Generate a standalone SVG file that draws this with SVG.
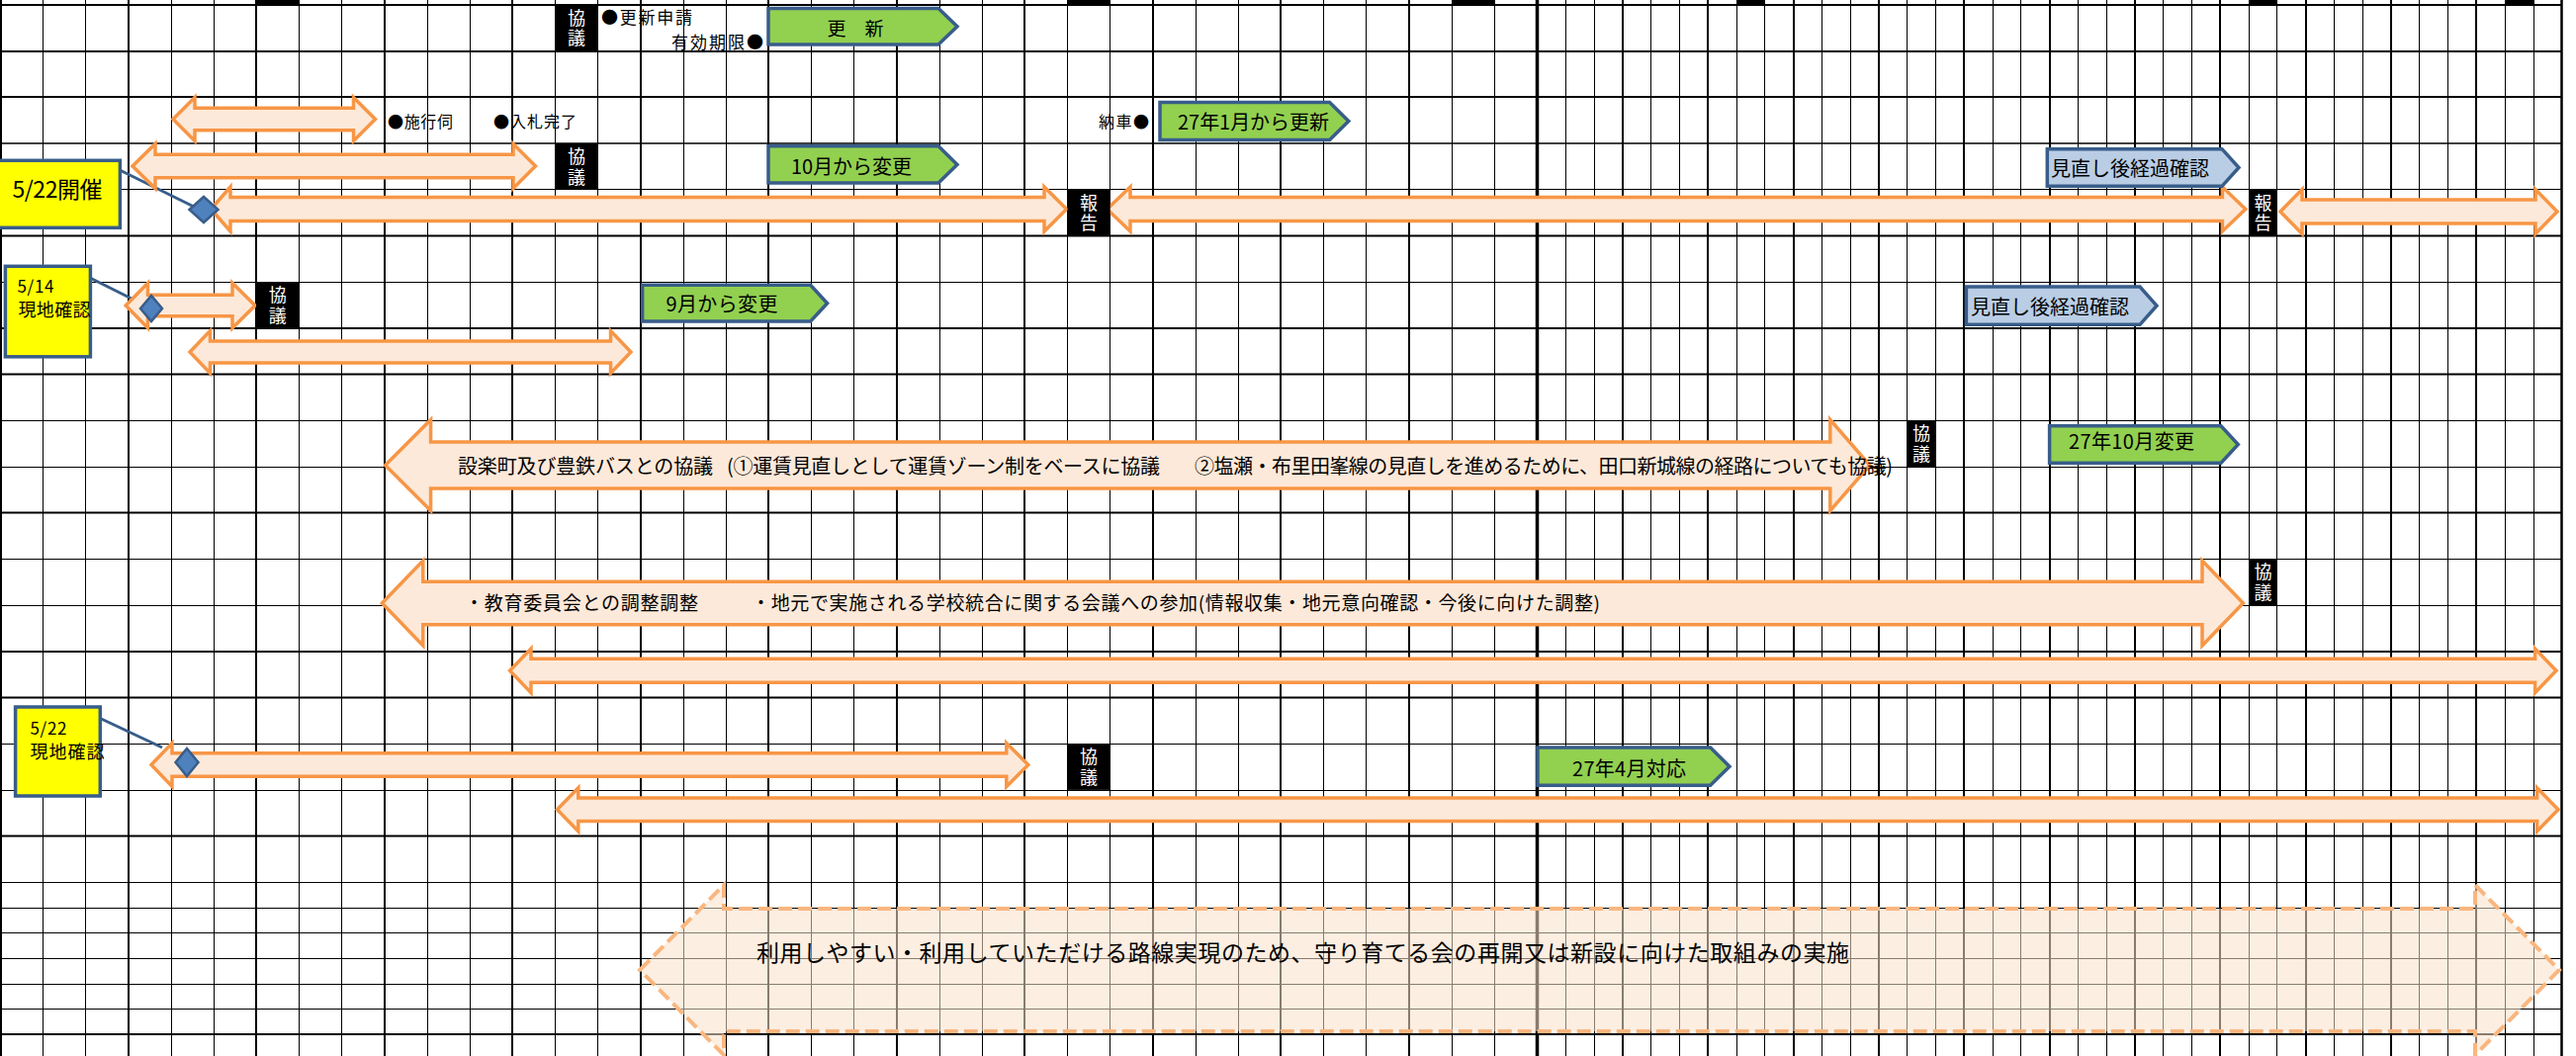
<svg xmlns="http://www.w3.org/2000/svg" width="2605" height="1068" viewBox="0 0 2605 1068">
<style>
text{font-family:"Noto Sans CJK JP","Noto Sans",sans-serif;fill:#000;dominant-baseline:central}
.g1{fill:none;stroke:#000;stroke-width:1}
.g2{fill:none;stroke:#000;stroke-width:2}
.g15{fill:none;stroke:#000;stroke-width:1.5}
.arr{fill:#FDE9D9;stroke:#F79646;stroke-width:3.5;stroke-linejoin:miter}
.dash{fill:#FAE0C8;fill-opacity:0.55;stroke:#F9B67F;stroke-width:4;stroke-dasharray:14 6}
.grn{fill:#92D050;stroke:#385D8A;stroke-width:3.5}
.blu{fill:#B9CDE5;stroke:#385D8A;stroke-width:3.5}
.yel{fill:#FFFF00;stroke:#385D8A;stroke-width:3.5}
.dia{fill:#4F81BD;stroke:#385D8A;stroke-width:2.5}
.cl{stroke:#385D8A;stroke-width:3;fill:none}
.blk{fill:#000}
.wt{fill:#fff;font-size:18px;text-anchor:middle;writing-mode:vertical-rl;letter-spacing:2.5px}
.s16{font-size:16px}
.s17{font-size:17px}
.s19{font-size:19px}
.s20{font-size:20px}
</style>
<rect width="2605" height="1068" fill="#fff"/>
<g id="grid">
<path class="g1" d="M43.5 0V1068M86.5 0V1068M173.5 0V1068M216.5 0V1068M302.5 0V1068M345.5 0V1068M432.5 0V1068M475.5 0V1068M561.5 0V1068M604.5 0V1068M691.5 0V1068M734.5 0V1068M820.5 0V1068M863.5 0V1068M950.5 0V1068M993.5 0V1068M1079.5 0V1068M1122.5 0V1068M1209.5 0V1068M1252.5 0V1068M1338.5 0V1068M1381.5 0V1068M1468.5 0V1068M1511.5 0V1068M1583.5 0V1068M1612.5 0V1068M1669.5 0V1068M1698.5 0V1068M1756.5 0V1068M1784.5 0V1068M1842.5 0V1068M1871.5 0V1068M1928.5 0V1068M1957.5 0V1068M2015.5 0V1068M2043.5 0V1068M2101.5 0V1068M2130.5 0V1068M2187.5 0V1068M2216.5 0V1068M2274.5 0V1068M2302.5 0V1068M2360.5 0V1068M2389.5 0V1068M2446.5 0V1068M2475.5 0V1068M2533.5 0V1068M2562.5 0V1068"/>
<path class="g2" d="M1 0V1068M130 0V1068M259 0V1068M389 0V1068M518 0V1068M648 0V1068M777 0V1068M907 0V1068M1036 0V1068M1166 0V1068M1295 0V1068M1425 0V1068M1641 0V1068M1727 0V1068M1814 0V1068M1900 0V1068M1986 0V1068M2073 0V1068M2159 0V1068M2245 0V1068M2332 0V1068M2418 0V1068M2504 0V1068"/>
<path fill="none" stroke="#000" stroke-width="3.5" d="M1554.5 0V1068"/>
<path fill="none" stroke="#000" stroke-width="2.5" d="M2590.5 0V1068"/>
<path class="g2" d="M0 5H2591M0 52H2591M0 98H2591M0 238.5H2591M0 332H2591M0 378.5H2591M0 518.5H2591M0 659H2591M0 705.5H2591M0 845.5H2591M0 1046H2591"/>
<path class="g15" d="M0 145H2591"/>
<path class="g1" d="M0 191.5H2591M0 285.5H2591M0 425.5H2591M0 472.5H2591M0 565.5H2591M0 612.5H2591M0 752.5H2591M0 799.5H2591M0 892.5H2591M0 918.5H2591M0 943.5H2591M0 969.5H2591M0 995.5H2591M0 1020.5H2591"/>
<rect class="blk" x="259" y="0" width="43" height="5"/>
<rect class="blk" x="1080" y="0" width="43" height="5"/>
<rect class="blk" x="1468" y="0" width="43" height="5"/>
<rect class="blk" x="1756" y="0" width="29" height="5"/>
<rect class="blk" x="2274" y="0" width="29" height="5"/>
<rect class="blk" x="2533" y="0" width="29" height="5"/>
</g>
<g id="connectors">
<line class="cl" x1="115" y1="169" x2="196" y2="209"/>
<line class="cl" x1="89" y1="280" x2="147" y2="309"/>
<line class="cl" x1="96" y1="724" x2="164" y2="756"/>
</g>
<g id="arrow-row3"><polygon class="arr" points="175,120.5 197,98.5 197,109.3 357.5,109.3 357.5,98.5 379.5,120.5 357.5,142.5 357.5,131.7 197,131.7 197,142.5"/></g>
<g id="arrow-row4"><polygon class="arr" points="134,168 157,145.5 157,156.3 519,156.3 519,145.5 541.5,168 519,190.5 519,179.7 157,179.7 157,190.5"/></g>
<g id="arrow-row5a"><polygon class="arr" points="213.4,211.5 233,189 233,199.5 1056,199.5 1056,189 1078.6,211.5 1056,234 1056,223.5 233,223.5 233,234"/></g>
<g id="arrow-row5b"><polygon class="arr" points="1119.6,211.5 1143,189 1143,199.5 2247.4,199.5 2247.4,189 2270.8,211.5 2247.4,234 2247.4,223.5 1143,223.5 1143,234"/></g>
<g id="arrow-row5c"><polygon class="arr" points="2306,214 2328,191.5 2328,202 2564,202 2564,191.5 2586,214 2564,236.5 2564,226 2328,226 2328,236.5"/></g>
<g id="arrow-row7"><polygon class="arr" points="127.2,309 149.5,286.2 149.5,298.2 235,298.2 235,286.2 258,309 235,331.8 235,319.8 149.5,319.8 149.5,331.8"/></g>
<g id="arrow-row8"><polygon class="arr" points="192,356 212.5,334.5 212.5,345 617.5,345 617.5,334.5 638,356 617.5,377.5 617.5,367 212.5,367 212.5,377.5"/></g>
<g id="arrow-shitara">
<polygon class="arr" points="389.6,470.5 435.6,424.5 435.6,447 1850.8,447 1850.8,424.5 1890.8,470.5 1850.8,516.5 1850.8,494 435.6,494 435.6,516.5"/>
<text class="s20" y="470"><tspan x="463" textLength="258">設楽町及び豊鉄バスとの協議</tspan><tspan>　</tspan><tspan x="735" textLength="438">(①運賃見直しとして運賃ゾーン制をベースに協議</tspan><tspan>　</tspan><tspan x="1208" textLength="706">②塩瀬・布里田峯線の見直しを進めるために、田口新城線の経路についても協議)</tspan></text>
</g>
<g id="arrow-school">
<polygon class="arr" points="386.4,610 427.8,567 427.8,588.3 2227,588.3 2227,567 2268.4,610 2227,653 2227,631.7 427.8,631.7 427.8,653"/>
<text class="s19" y="608"><tspan x="470" textLength="236">・教育委員会との調整調整</tspan><tspan>　　　</tspan><tspan x="760" textLength="858">・地元で実施される学校統合に関する会議への参加(情報収集・地元意向確認・今後に向けた調整)</tspan></text>
</g>
<g id="arrow-row15"><polygon class="arr" points="515.6,678.3 537,656 537,666.3 2563.6,666.3 2563.6,656 2585,678.3 2563.6,700.6 2563.6,690.3 537,690.3 537,700.6"/></g>
<g id="arrow-row17"><polygon class="arr" points="153,773.5 174,751.5 174,761.8 1017.8,761.8 1017.8,751.5 1039.8,773.5 1017.8,795.5 1017.8,785.2 174,785.2 174,795.5"/></g>
<g id="arrow-row18"><polygon class="arr" points="563.4,818.7 584.8,796.7 584.8,807 2565.6,807 2565.6,796.7 2587,818.7 2565.6,840.7 2565.6,830.4 584.8,830.4 584.8,840.7"/></g>
<g id="arrow-mamori">
<polygon class="dash" points="647,981 732,895 732,919 2503,919 2503,895 2588,981 2503,1067 2503,1043 732,1043 732,1067"/>
<text x="765" y="962" font-size="23" textLength="1105">利用しやすい・利用していただける路線実現のため、守り育てる会の再開又は新設に向けた取組みの実施</text>
</g>
<g id="pent-koshin">
<polygon class="grn" points="777,8.5 949,8.5 968,26.8 949,45 777,45"/>
<text class="s19" x="865" y="27" text-anchor="middle">更　新</text>
</g>
<g id="pent-27-1">
<polygon class="grn" points="1173,103.5 1344.6,103.5 1363.8,122.5 1344.6,141.5 1173,141.5"/>
<text class="s20" x="1191" y="122.5" textLength="153">27年1月から更新</text>
</g>
<g id="pent-10gatsu">
<polygon class="grn" points="777,147.7 949,147.7 968,166.4 949,185 777,185"/>
<text class="s20" x="800" y="167" textLength="122">10月から変更</text>
</g>
<g id="pent-minaoshi1">
<polygon class="blu" points="2070.3,150.7 2247,150.7 2264,169.5 2247,188.3 2070.3,188.3"/>
<text class="s20" x="2074" y="169.5" textLength="160">見直し後経過確認</text>
</g>
<g id="pent-9gatsu">
<polygon class="grn" points="649.6,288.3 819.6,288.3 836.6,306.7 819.6,325 649.6,325"/>
<text class="s20" x="673.5" y="306.7" textLength="113">9月から変更</text>
</g>
<g id="pent-minaoshi2">
<polygon class="blu" points="1988.4,290 2164,290 2181,309.2 2164,328.3 1988.4,328.3"/>
<text class="s20" x="1993" y="309" textLength="160">見直し後経過確認</text>
</g>
<g id="pent-27-10">
<polygon class="grn" points="2072.6,430.7 2246,430.7 2263.3,449.5 2246,468.3 2072.6,468.3"/>
<text class="s20" x="2092" y="445.5" textLength="127">27年10月変更</text>
</g>
<g id="pent-27-4">
<polygon class="grn" points="1555,756 1729.6,756 1749,775.2 1729.6,794.3 1555,794.3"/>
<text class="s20" x="1590" y="776" textLength="115">27年4月対応</text>
</g>
<g id="labels">
<text class="s17" x="608" y="16" textLength="92">●更新申請</text>
<text class="s17" x="679" y="41" textLength="93">有効期限●</text>
<text class="s16" x="392" y="122" textLength="66">●施行伺</text>
<text class="s16" x="499" y="122" textLength="84">●入札完了</text>
<text class="s16" x="1111" y="122" textLength="51">納車●</text>
</g>
<g id="note-522kaisai">
<rect class="yel" x="-10" y="162.3" width="131.4" height="68"/>
<text x="12.5" y="190" font-size="23" textLength="91">5/22開催</text>
</g>
<g id="note-514">
<rect class="yel" x="5.4" y="269.3" width="86" height="91.5"/>
<text class="s17"><tspan x="17.5" y="288" textLength="37">5/14</tspan><tspan x="18.5" y="311.7" font-size="18" textLength="73">現地確認</tspan></text>
</g>
<g id="note-522genchi">
<rect class="yel" x="15.6" y="715" width="85.7" height="90"/>
<text class="s17"><tspan x="30.5" y="735" textLength="37">5/22</tspan><tspan x="30.5" y="759" font-size="18" textLength="75">現地確認</tspan></text>
</g>
<g id="diamonds">
<polygon class="dia" points="191.5,212 206,199 220.5,212 206,225"/>
<polygon class="dia" points="142,312 153,299 164,312 153,325"/>
<polygon class="dia" points="177.5,771 189,757 200.5,771 189,785"/>
</g>
<g id="kyogi-1"><rect class="blk" x="561.3" y="5" width="43.2" height="46.7"/><text class="wt" x="583" y="29.6">協議</text></g>
<g id="kyogi-2"><rect class="blk" x="561.3" y="145.1" width="43.2" height="46.7"/><text class="wt" x="583" y="169.7">協議</text></g>
<g id="hokoku-1"><rect class="blk" x="1079.5" y="191.8" width="43.2" height="46.7"/><text class="wt" x="1101.1" y="216.4">報告</text></g>
<g id="hokoku-2"><rect class="blk" x="2274" y="191.8" width="28.8" height="46.7"/><text class="wt" x="2288.4" y="216.4">報告</text></g>
<g id="kyogi-3"><rect class="blk" x="259.1" y="285.2" width="43.2" height="46.7"/><text class="wt" x="280.7" y="309.8">協議</text></g>
<g id="kyogi-4"><rect class="blk" x="1928.6" y="425.3" width="28.8" height="46.7"/><text class="wt" x="1943" y="449.9">協議</text></g>
<g id="kyogi-5"><rect class="blk" x="2274" y="565.4" width="28.8" height="46.7"/><text class="wt" x="2288.4" y="590">協議</text></g>
<g id="kyogi-6"><rect class="blk" x="1079.5" y="752.2" width="43.2" height="46.7"/><text class="wt" x="1101.1" y="776.8">協議</text></g>
</svg>
